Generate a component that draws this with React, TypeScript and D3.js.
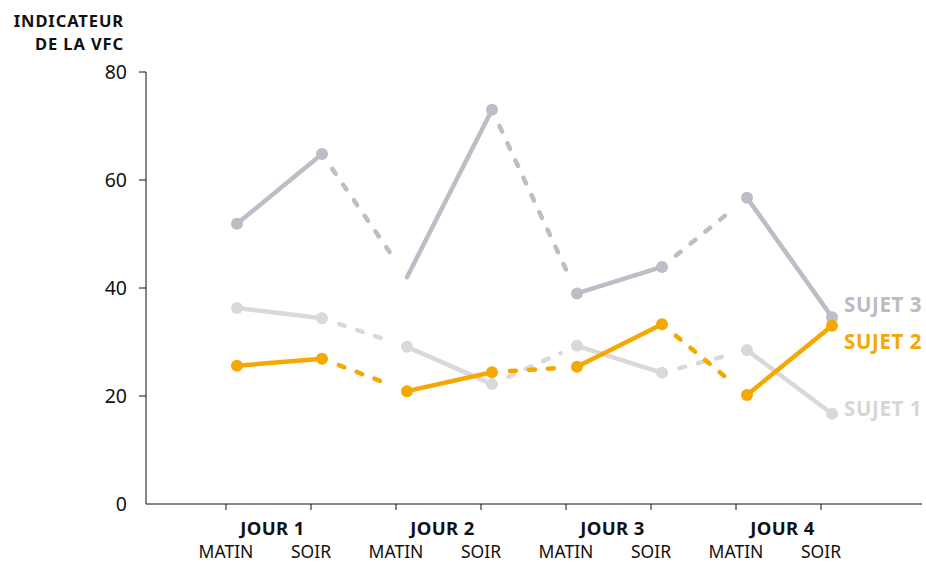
import React from "react";
import * as d3 from "d3";

const moments = ["J1M", "J1S", "J2M", "J2S", "J3M", "J3S", "J4M", "J4S"];
const momentLabels = ["MATIN", "SOIR", "MATIN", "SOIR", "MATIN", "SOIR", "MATIN", "SOIR"];
const dayLabels = ["JOUR 1", "JOUR 2", "JOUR 3", "JOUR 4"];
const yTicks = [0, 20, 40, 60, 80];

const sujet1 = [36.3, 34.4, 29.1, 22.2, 29.3, 24.3, 28.5, 16.7];
const sujet2 = [25.6, 26.9, 20.9, 24.4, 25.4, 33.3, 20.2, 33.0];
const sujet3 = [51.9, 64.8, 42.0, 73.0, 39.0, 43.9, 56.7, 34.6];
const sujet3Hidden = [2]; // point drawn without a dot in the reference

const seriesNames = ["SUJET 1", "SUJET 2", "SUJET 3"];
const seriesColors = ["#d9d9d9", "#f5a800", "#bbbdc7"];
const labelColors = ["#d6d6d6", "#f5a800", "#b9bbc5"];
const labelOffsets = [-5, 16, -13];

const W = 926;
const H = 562;
const FONT = "'Noto Sans', 'Open Sans', sans-serif";

export default function App() {
  const x = d3.scalePoint<string>().domain(moments).range([237, 832]);
  const y = d3.scaleLinear().domain([0, 80]).range([504, 72]);
  const tickShift = -11;
  const all = [sujet1, sujet2, sujet3];
  const order = [0, 2, 1];
  const lw = 4.5;
  const gap = 18;

  const segs = (vals: number[], color: string, key: string) => {
    const out: React.ReactNode[] = [];
    for (let i = 0; i < vals.length - 1; i++) {
      const x1 = x(moments[i])!, y1 = y(vals[i]);
      const x2 = x(moments[i + 1])!, y2 = y(vals[i + 1]);
      const dashed = i % 2 === 1;
      if (!dashed) {
        out.push(<line key={key + i} x1={x1} y1={y1} x2={x2} y2={y2} stroke={color} strokeWidth={lw} strokeLinecap="round" />);
      } else {
        const len = Math.hypot(x2 - x1, y2 - y1);
        const ux = (x2 - x1) / len, uy = (y2 - y1) / len;
        out.push(
          <line key={key + i} x1={x1 + ux * gap} y1={y1 + uy * gap} x2={x2 - ux * gap} y2={y2 - uy * gap}
            stroke={color} strokeWidth={lw} strokeLinecap="round" strokeDasharray="6,13" />
        );
      }
    }
    return out;
  };

  return (
    <svg width={W} height={H} style={{ position: "absolute", left: 0, top: 0 }} fontFamily={FONT}>
      <rect width={W} height={H} fill="#fff" />
      <text x={124} y={27} textAnchor="end" fontWeight={700} fontSize={16.5} letterSpacing={0.9} fill="#111">INDICATEUR</text>
      <text x={124} y={50} textAnchor="end" fontWeight={700} fontSize={16.5} letterSpacing={0.9} fill="#111">DE LA VFC</text>

      {/* y axis */}
      <line x1={146} y1={y(80)} x2={146} y2={y(0)} stroke="#111" strokeWidth={1} />
      {yTicks.map((t) => (
        <g key={t}>
          {t > 0 && <line x1={139} x2={146} y1={y(t)} y2={y(t)} stroke="#111" strokeWidth={1} />}
          <text x={127} y={y(t) + 6.5} textAnchor="end" fontSize={19.5} fill="#111">{t}</text>
        </g>
      ))}

      {/* x axis */}
      <line x1={146} y1={y(0)} x2={922} y2={y(0)} stroke="#111" strokeWidth={1} />
      {moments.map((m, i) => (
        <g key={m}>
          <line x1={x(m)! + tickShift} x2={x(m)! + tickShift} y1={y(0)} y2={y(0) + 6} stroke="#111" strokeWidth={1} />
          <text x={x(m)! + tickShift} y={558} textAnchor="middle" fontSize={17.5} fill="#111">{momentLabels[i]}</text>
        </g>
      ))}
      {dayLabels.map((d, j) => {
        const cx = (x(moments[2 * j])! + x(moments[2 * j + 1])!) / 2 + tickShift + 4;
        return <text key={d} x={cx} y={535} textAnchor="middle" fontSize={18.5} fontWeight={700} letterSpacing={0.4} fill="#111">{d}</text>;
      })}

      {order.map((s) => (
        <g key={"s" + s}>
          {segs(all[s], seriesColors[s], "l" + s)}
          {all[s].map((v, i) =>
            s === 2 && sujet3Hidden.includes(i) ? null : (
              <circle key={i} cx={x(moments[i])!} cy={y(v)} r={6} fill={seriesColors[s]} />
            )
          )}
          <text x={844} y={y(all[s][7]) + 7.5 + labelOffsets[s]} fontSize={20.5} fontWeight={700} letterSpacing={0.6} fill={labelColors[s]}>{seriesNames[s]}</text>
        </g>
      ))}
    </svg>
  );
}
